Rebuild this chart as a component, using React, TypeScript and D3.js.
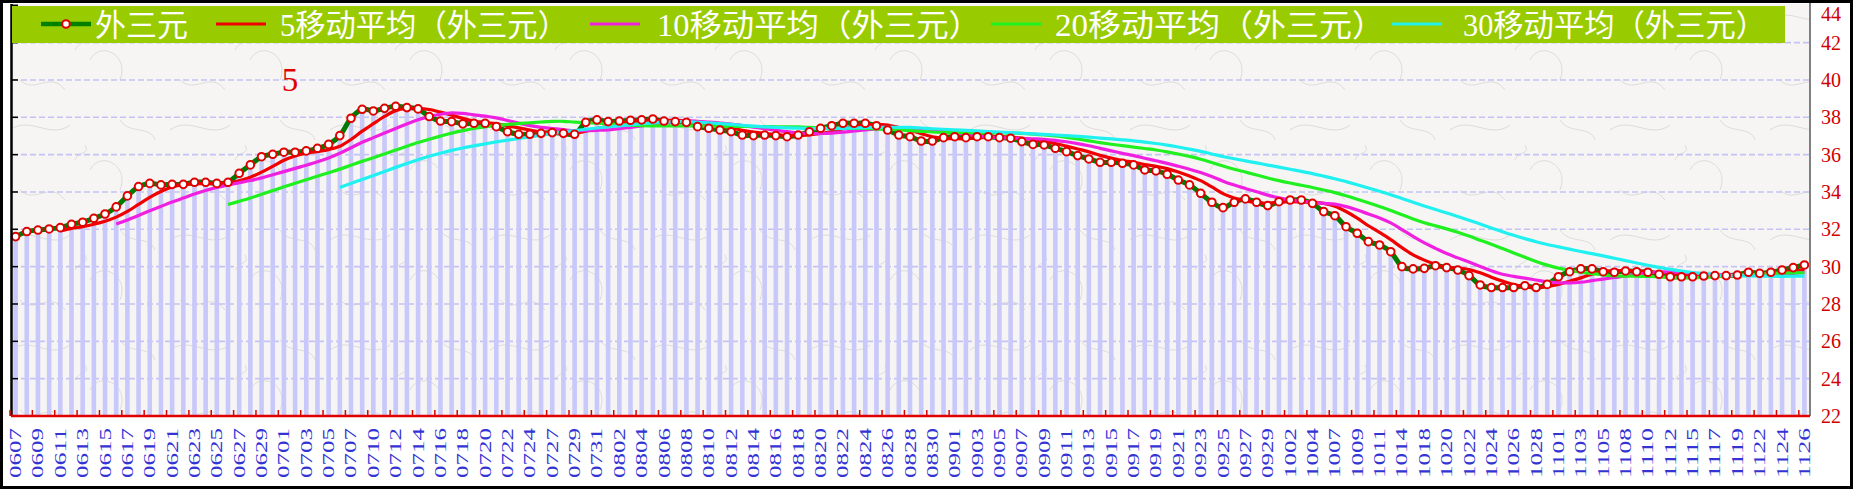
import React from 'react';
import * as d3 from 'd3';

const categories: string[] = [
  '0607','0608','0609','0610','0611','0612','0613','0614','0615','0616',
  '0617','0618','0619','0620','0621','0622','0623','0624','0625','0626',
  '0627','0628','0629','0630','0701','0702','0703','0704','0705','0706',
  '0707','0708','0710','0711','0712','0713','0714','0715','0716','0717',
  '0718','0719','0720','0721','0722','0723','0724','0725','0727','0728',
  '0729','0730','0731','0801','0802','0803','0804','0805','0806','0807',
  '0808','0809','0810','0811','0812','0813','0814','0815','0816','0817',
  '0818','0819','0820','0821','0822','0823','0824','0825','0826','0827',
  '0828','0829','0830','0831','0901','0902','0903','0904','0905','0906',
  '0907','0908','0909','0910','0911','0912','0913','0914','0915','0916',
  '0917','0918','0919','0920','0921','0922','0923','0924','0925','0926',
  '0927','0928','0929','0930','1002','1003','1004','1005','1007','1008',
  '1009','1010','1011','1012','1014','1016','1018','1019','1020','1021',
  '1022','1023','1024','1025','1026','1027','1028','1029','1101','1102',
  '1103','1104','1105','1106','1108','1109','1110','1111','1112','1113',
  '1115','1116','1117','1118','1119','1120','1122','1123','1124','1125',
  '1126'
];

const values: number[] = [
  31.61,31.88,31.96,32.02,32.09,32.27,32.38,32.59,32.82,33.2,
  33.79,34.29,34.46,34.38,34.41,34.41,34.52,34.52,34.46,34.52,
  35.0,35.45,35.89,36.02,36.13,36.13,36.2,36.34,36.55,37.02,
  37.95,38.43,38.34,38.48,38.59,38.52,38.45,38.04,37.8,37.77,
  37.65,37.68,37.68,37.5,37.23,37.09,37.09,37.14,37.18,37.14,
  37.09,37.73,37.86,37.77,37.8,37.84,37.86,37.91,37.8,37.77,
  37.73,37.5,37.41,37.32,37.23,37.05,37.02,37.05,37.02,36.96,
  37.05,37.23,37.41,37.55,37.68,37.68,37.68,37.55,37.32,37.05,
  36.96,36.73,36.73,36.91,36.96,36.91,36.96,36.96,36.91,36.88,
  36.7,36.55,36.52,36.34,36.16,35.95,35.77,35.59,35.59,35.54,
  35.45,35.18,35.13,34.95,34.64,34.38,33.93,33.45,33.16,33.45,
  33.63,33.45,33.27,33.48,33.57,33.57,33.39,32.95,32.73,32.14,
  31.79,31.34,31.16,30.8,30.0,29.88,29.91,30.05,29.95,29.82,
  29.52,29.02,28.88,28.88,28.88,28.98,28.88,29.05,29.46,29.73,
  29.88,29.88,29.73,29.7,29.77,29.73,29.7,29.59,29.46,29.46,
  29.46,29.5,29.52,29.52,29.55,29.7,29.64,29.7,29.82,29.95,
  30.09
];

const yTicks: number[] = [22, 24, 26, 28, 30, 32, 34, 36, 38, 40, 42, 44];
const maPeriods: number[] = [5, 10, 20, 30];
const maColors: string[] = ['#f00000', '#f020e0', '#20f020', '#20f0f0'];
const legendLabels: string[] = [
  '外三元',
  '5移动平均（外三元）',
  '10移动平均（外三元）',
  '20移动平均（外三元）',
  '30移动平均（外三元）',
];
const annotation = '5';

const W = 1853;
const H = 489;
const PL = 10;
const PR = 1810;
const PB = 416;
const PT = 4;

function movingAverage(arr: number[], n: number): (number | null)[] {
  return arr.map((_, i) => (i < n - 1 ? null : (d3.mean(arr.slice(i - n + 1, i + 1)) as number)));
}

export default function App() {
  const x = d3.scaleBand<string>().domain(categories).range([PL, PR]).padding(0);
  const bw = x.bandwidth();
  const cx = (i: number) => (x(categories[i]) as number) + bw / 2;
  const y = d3.scaleLinear().domain([22, 44]).range([PB, 5.3]);

  const line = d3
    .line<number | null>()
    .defined((d) => d != null)
    .x((_, i) => cx(i))
    .y((d) => y(d as number))
    .curve(d3.curveCatmullRom.alpha(0));

  const mas = maPeriods.map((p) => movingAverage(values, p));

  const legendItems = [
    { sx: 41, tx: 95, tl: 93 },
    { sx: 216, tx: 280, tl: 288 },
    { sx: 590, tx: 657, tl: 324 },
    { sx: 991, tx: 1055, tl: 330 },
    { sx: 1392, tx: 1463, tl: 303 },
  ];
  const legendColors = ['#008000', ...maColors];

  return (
    <div style={{ position: 'absolute', left: 0, top: 0, width: W, height: H, background: '#fff' }}>
      <svg width={W} height={H} viewBox={`0 0 ${W} ${H}`} style={{ display: 'block' }}>
        <defs>
          <pattern id="paper" width={160} height={110} patternUnits="userSpaceOnUse">
            <rect width={160} height={110} fill="#f6f5f4" />
            <path d="M10,20 C30,5 50,30 70,15 M90,60 C100,40 130,55 120,80 M20,80 C35,95 50,70 65,90 M120,10 C130,25 150,15 155,30 M75,50 C80,40 90,45 85,35"
              fill="none" stroke="#d6d4d2" strokeWidth={0.8} />
          </pattern>
        </defs>
        <rect x={0} y={0} width={W} height={H} fill="#ffffff" />
        <rect x={PL + 1} y={PT} width={PR - PL - 1} height={PB - PT} fill="url(#paper)" />

        {yTicks.filter((t) => t > 22 && t < 44).map((t) => (
          <line key={'g' + t} x1={PL + 2} x2={PR} y1={y(t)} y2={y(t)} stroke="#c4c4f4" strokeWidth={1.6} strokeDasharray="6,3" />
        ))}

        {values.map((v, i) => (
          <rect key={'b' + i} x={cx(i) - 2.3} y={y(v)} width={4.6} height={PB - y(v)} fill="#c8c8fa" />
        ))}

        <path d={line(values) as string} fill="none" stroke="#007a00" strokeWidth={5} />
        {mas.map((m, k) => (
          <path key={'ma' + k} d={line(m) as string} fill="none" stroke={maColors[k]} strokeWidth={3.2} />
        ))}
        {values.map((v, i) => (
          <circle key={'c' + i} cx={cx(i)} cy={y(v)} r={3.8} fill="#ffffff" stroke="#e00000" strokeWidth={2} />
        ))}

        <line x1={11.5} x2={11.5} y1={PT} y2={PB} stroke="#000" strokeWidth={2.5} />
        {yTicks.filter((t) => t > 22).map((t) => (
          <line key={'lt' + t} x1={11} x2={18} y1={y(t)} y2={y(t)} stroke="#000" strokeWidth={1.5} />
        ))}
        <line x1={PR} x2={PR} y1={0} y2={PB} stroke="#808080" strokeWidth={2} />

        <line x1={11} x2={PR} y1={PB} y2={PB} stroke="#e00000" strokeWidth={2.5} />
        {categories.map((c, i) =>
          i % 2 === 0 ? (
            <line key={'xt' + i} x1={x(c) as number} x2={x(c) as number} y1={PB} y2={PB - 6} stroke="#e00000" strokeWidth={1.5} />
          ) : null
        )}
        {categories.map((c, i) =>
          i % 2 === 0 ? (
            <text
              key={'xl' + i}
              transform={`translate(${cx(i)},428) rotate(-90)`}
              textAnchor="end"
              dominantBaseline="central"
              fontFamily='"Liberation Serif", serif'
              fontSize={17}
              fill="#3434d4"
              textLength={50}
              lengthAdjust="spacingAndGlyphs"
            >
              {c}
            </text>
          ) : null
        )}

        {yTicks.map((t) => (
          <text key={'yl' + t} x={1821} y={Math.max(y(t), 14)} dominantBaseline="central" fontFamily='"Liberation Serif", serif' fontSize={20} fill="#d00000">
            {t}
          </text>
        ))}

        <text x={290} y={91} textAnchor="middle" fontFamily='"Liberation Serif", serif' fontSize={33} fill="#e00000">
          {annotation}
        </text>

        <rect x={12} y={6} width={1773} height={37} fill="#99cc00" />
        {legendItems.map((it, k) => (
          <g key={'lg' + k}>
            <line x1={it.sx} x2={it.sx + 50} y1={24} y2={24} stroke={legendColors[k]} strokeWidth={k === 0 ? 4.5 : 3.2} />
            {k === 0 ? <circle cx={it.sx + 25} cy={24} r={3.8} fill="#fff" stroke="#e00000" strokeWidth={2} /> : null}
            <text
              x={it.tx}
              y={36}
              fontFamily='"Liberation Serif", "Noto Sans CJK SC", serif'
              fontSize={31}
              fill="#ffffff"
              textLength={it.tl}
              lengthAdjust="spacingAndGlyphs"
            >
              {legendLabels[k]}
            </text>
          </g>
        ))}

        <rect x={1.5} y={1.5} width={W - 3} height={H - 3} fill="none" stroke="#000" strokeWidth={3} />
      </svg>
    </div>
  );
}
